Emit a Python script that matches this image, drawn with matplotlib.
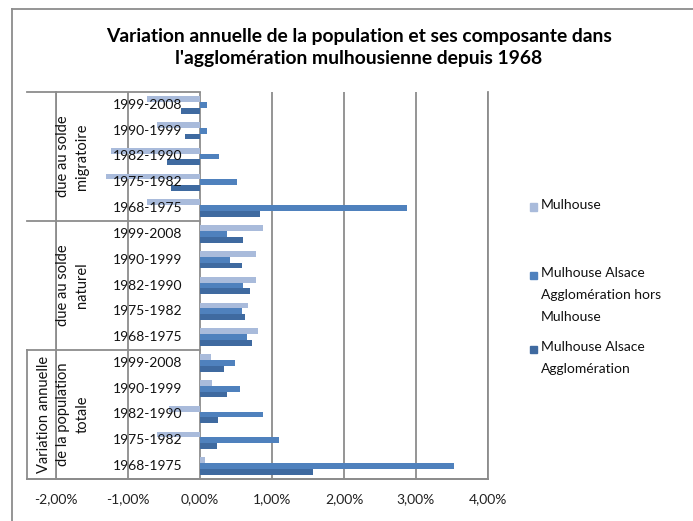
import textwrap
import numpy as np
import matplotlib
matplotlib.use("Agg")
import matplotlib.pyplot as plt
from matplotlib import transforms
from matplotlib.lines import Line2D
from matplotlib.patches import Rectangle

plt.rcParams['font.family'] = ['Lato', 'DejaVu Sans']

# Données (variation annuelle en %)
periodes = ['1999-2008', '1990-1999', '1982-1990', '1975-1982', '1968-1975']
groupes = ['due au solde migratoire', 'due au solde naturel',
           'Variation annuelle de la population totale']
series = ['Mulhouse', 'Mulhouse Alsace Agglomération hors Mulhouse',
          'Mulhouse Alsace Agglomération']

mulhouse_migratoire = [-0.73, -0.60, -1.23, -1.30, -0.73]
mulhouse_naturel = [0.87, 0.78, 0.78, 0.67, 0.80]
mulhouse_total = [0.15, 0.17, -0.43, -0.60, 0.07]

hors_migratoire = [0.10, 0.10, 0.26, 0.51, 2.87]
hors_naturel = [0.37, 0.42, 0.60, 0.58, 0.65]
hors_total = [0.48, 0.55, 0.88, 1.10, 3.53]

agglo_migratoire = [-0.26, -0.21, -0.46, -0.40, 0.83]
agglo_naturel = [0.60, 0.58, 0.69, 0.63, 0.72]
agglo_total = [0.33, 0.37, 0.25, 0.23, 1.57]

valeurs = [mulhouse_migratoire + mulhouse_naturel + mulhouse_total,
           hors_migratoire + hors_naturel + hors_total,
           agglo_migratoire + agglo_naturel + agglo_total]
couleurs = ['#a9bbdb', '#4f81bd', '#3f6aa0']
gris = '#8c8c8c'

W, H = 693, 521
fig = plt.figure(figsize=(W / 100, H / 100), dpi=100)
ax = fig.add_axes([56 / W, 1 - 479 / H, (488 - 56) / W, (479 - 92) / H])

n = len(periodes) * len(groupes)
y = np.arange(n)
h = 0.225
for i, (vals, c) in enumerate(zip(valeurs, couleurs)):
    ax.barh(y + (i - 1) * h, vals, height=h, color=c, zorder=2)

ax.set_xlim(-2, 4)
ax.set_ylim(n - 0.5, -0.5)
ax.set_xticks(range(-2, 5))
ax.set_xticklabels([f'{v:.2f}%'.replace('.', ',') for v in range(-2, 5)], fontsize=10)
ax.set_yticks([])
ax.tick_params(axis='x', length=0, pad=10, colors='#222222')
ax.grid(axis='x', color=gris, lw=1.3, zorder=0)
ax.set_axisbelow(True)
ax.spines['top'].set_visible(False)
for s in ['left', 'right', 'bottom']:
    ax.spines[s].set_color(gris)
    ax.spines[s].set_linewidth(1.3)

# étiquettes de catégories
for k in range(n):
    ax.annotate(periodes[k % len(periodes)], xy=(0, k), xytext=(-18, 0),
                textcoords='offset pixels', ha='right', va='center', fontsize=10,
                color='#111111')

x_gauche = -2 - 29 / 72
for g in range(len(groupes) + 1):
    yy = g * len(periodes) - 0.5
    ax.plot([x_gauche, 0], [yy, yy], color=gris, lw=1.3, clip_on=False, zorder=3)
ax.plot([x_gauche, 4], [n - 0.5, n - 0.5], color=gris, lw=1.3, clip_on=False, zorder=3)
ax.plot([x_gauche, x_gauche], [2 * len(periodes) - 0.5, n - 0.5], color=gris,
        lw=1.3, clip_on=False)

tr = transforms.blended_transform_factory(fig.transFigure, ax.transData)
x_groupes = [72.5, 72.5, 63]
for g, nom in enumerate(groupes):
    ax.text(x_groupes[g] / W, g * len(periodes) + 2, textwrap.fill(nom, 18),
            transform=tr, rotation=90, ha='center', va='center',
            multialignment='center', fontsize=10.5, linespacing=1.5,
            color='#111111', clip_on=False)

# légende
y_leg = [207, 275, 349]
for i, nom in enumerate(series):
    fig.add_artist(Rectangle((530 / W, 1 - (y_leg[i] + 3.5) / H), 7 / W, 7 / H,
                             transform=fig.transFigure, color=couleurs[i]))
    fig.text(541 / W, 1 - (y_leg[i] - 8) / H, textwrap.fill(nom, 18),
             ha='left', va='top', fontsize=10, linespacing=2.0, color='#111111')

fig.text(359 / W, 1 - 47.5 / H,
         "Variation annuelle de la population et ses composante dans\n"
         "l'agglomération mulhousienne depuis 1968",
         ha='center', va='center', fontsize=13.9, fontweight='bold', linespacing=1.4)

# cadre
fig.add_artist(Line2D([12 / W, 12 / W], [0, 1 - 9 / H], transform=fig.transFigure,
                      color=gris, lw=1.3))
fig.add_artist(Line2D([12 / W, 1], [1 - 9 / H, 1 - 9 / H], transform=fig.transFigure,
                      color=gris, lw=1.3))

fig.savefig('out.png', dpi=100)
